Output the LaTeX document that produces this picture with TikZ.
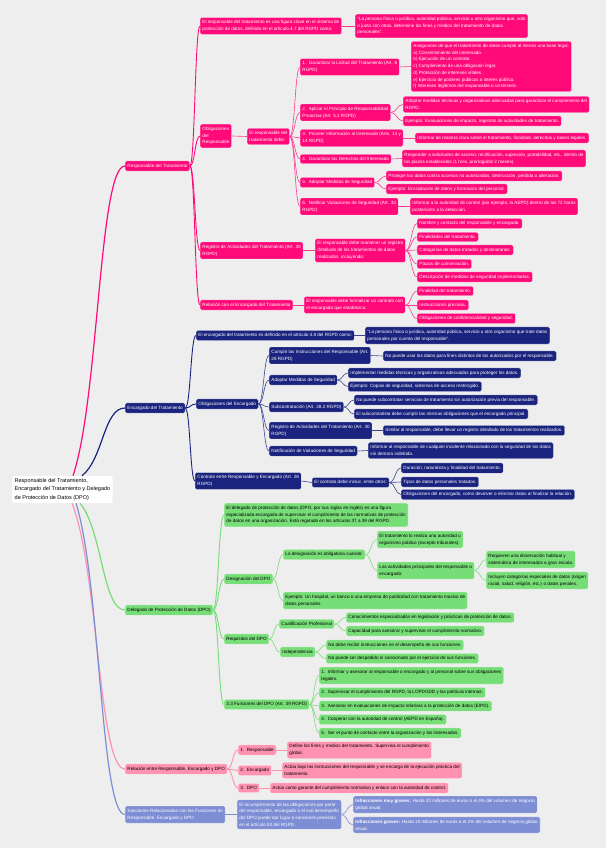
\documentclass[tikz,border=0pt]{standalone}
\usepackage{fontspec}
\setmainfont{Liberation Sans}
\usetikzlibrary{calc}
\definecolor{bg}{HTML}{EEEEEE}
\definecolor{pk}{HTML}{FF0A78}
\definecolor{nv}{HTML}{1A237E}
\definecolor{gr}{HTML}{77DD77}
\definecolor{lp}{HTML}{FF91B1}
\definecolor{pw}{HTML}{7E8ED5}
\newcommand\fs{\fontsize{4.6}{6.7}\selectfont}
\newcommand\cn[3][]{\draw[#1] (#2.east) let \p1=(#2.east), \p2=(#3.west) in .. controls ({(\x1+\x2)/2},\y1) and ({(\x1+\x2)/2},\y2) .. (\p2);}
\newcommand\rl[3][]{\draw[#1] (#2) let \p1=(#2), \p2=(#3.west) in .. controls ({(\x1+\x2)/2},{\y1+((\y2)-(\y1))/4}) and ({(\x1+\x2)/2},\y2) .. (\p2);}
\begin{document}
\begin{tikzpicture}[x=1pt,y=-1pt,
 nbox/.style={rounded corners=1.5pt, inner xsep=2.3pt, inner ysep=3pt, align=left, anchor=west, font=\fs, draw=white, draw opacity=0.55, line width=0.35pt},
 pkb/.style={nbox, fill=pk, text=white},
 nvb/.style={nbox, fill=nv, text=white},
 grb/.style={nbox, fill=gr, text=black},
 lpb/.style={nbox, fill=lp, text=black},
 pwb/.style={nbox, fill=pw, text=white},
 rootb/.style={rounded corners=2pt, fill=white, text=black, inner sep=2.5pt, align=left, anchor=west, font=\fontsize{5.5}{8.5}\selectfont},
 pk0/.style={draw=pk, line width=1.2pt}, pk1/.style={draw=pk, line width=0.9pt}, pk2/.style={draw=pk!80, line width=0.6pt},
 nv0/.style={draw=nv, line width=1.2pt}, nv1/.style={draw=nv, line width=0.9pt}, nv2/.style={draw=nv!85, line width=0.6pt},
 gr0/.style={draw=gr, line width=1.2pt}, gr1/.style={draw=gr, line width=0.9pt}, gr2/.style={draw=gr, line width=0.6pt},
 lp0/.style={draw=lp, line width=1.2pt}, lp1/.style={draw=lp, line width=0.9pt}, lp2/.style={draw=lp, line width=0.6pt},
 pw0/.style={draw=pw, line width=1.2pt}, pw1/.style={draw=pw, line width=0.9pt}, pw2/.style={draw=pw, line width=0.6pt}
]
\fill[bg] (0,0) rectangle (606,848);
\useasboundingbox (0,0) rectangle (606,848);

% root
\node[rootb] (root) at (12,489.5) {Responsable del Tratamiento,\\Encargado del Tratamiento y Delegado\\de Protección de Datos (DPO)};
\coordinate (ra) at ([xshift=61pt]root.north west);
\coordinate (rb) at ([xshift=70pt]root.north west);
\coordinate (rc) at ([xshift=68pt]root.south west);
\coordinate (rd) at ([xshift=60pt]root.south west);
\coordinate (re) at ([xshift=64pt]root.south west);

% ---------------- pink branch
\node[pkb] (r1) at (125,166) {Responsable del Tratamiento};
\node[pkb] (r1a) at (200,26) {El responsable del tratamiento es una figura clave en el sistema de\\protección de datos, definida en el artículo 4.7 del RGPD como:};
\node[pkb] (r1a1) at (355,26) {"La persona física o jurídica, autoridad pública, servicio u otro organismo que, solo\\o junto con otros, determine los fines y medios del tratamiento de datos\\personales".};
\node[pkb] (r1b) at (200,136) {Obligaciones\\del\\Responsable};
\node[pkb] (r1b0) at (247,136.5) {El responsable del\\tratamiento debe:};
\node[pkb] (o1) at (300,67) {1.~~Garantizar la Licitud del Tratamiento (Art. 6\\RGPD)};
\node[pkb] (o1a) at (411,66.5) {Asegurarse de que el tratamiento de datos cumple al menos una base legal:\\a) Consentimiento del interesado.\\b) Ejecución de un contrato.\\c) Cumplimiento de una obligación legal.\\d) Protección de intereses vitales.\\e) Ejercicio de poderes públicos o interés público.\\f) Intereses legítimos del responsable o un tercero.};
\node[pkb] (o2) at (300,112.5) {2.~~Aplicar el Principio de Responsabilidad\\Proactiva (Art. 5.2 RGPD)};
\node[pkb] (o2a) at (403,104.5) {Adoptar medidas técnicas y organizativas adecuadas para garantizar el cumplimiento del\\RGPD.};
\node[pkb] (o2b) at (403,121) {Ejemplo: Evaluaciones de impacto, registros de actividades de tratamiento.};
\node[pkb] (o3) at (300,138) {3.~~Proveer Información al Interesado (Arts. 13 y\\14 RGPD)};
\node[pkb] (o3a) at (415,138) {Informar de manera clara sobre el tratamiento, finalidad, derechos y bases legales.};
\node[pkb] (o4) at (300,159) {4.~~Garantizar los Derechos del Interesado};
\node[pkb] (o4a) at (402,158.5) {Responder a solicitudes de acceso, rectificación, supresión, portabilidad, etc., dentro de\\los plazos establecidos (1 mes, prorrogable 2 meses).};
\node[pkb] (o5) at (300,182.5) {5.~~Adoptar Medidas de Seguridad};
\node[pkb] (o5a) at (386,176) {Proteger los datos contra accesos no autorizados, destrucción, pérdida o alteración.};
\node[pkb] (o5b) at (386,189) {Ejemplo: Encriptación de datos y formación del personal.};
\node[pkb] (o6) at (300,206.5) {6.~~Notificar Violaciones de Seguridad (Art. 33\\RGPD)};
\node[pkb] (o6a) at (410,206.5) {Informar a la autoridad de control (por ejemplo, la AEPD) dentro de las 72 horas\\posteriores a la detección.};
\node[pkb] (r1c) at (200,250.5) {Registro de Actividades del Tratamiento (Art. 30\\RGPD)};
\node[pkb] (r1c0) at (315,250.5) {El responsable debe mantener un registro\\detallado de los tratamientos de datos\\realizados, incluyendo:};
\node[pkb] (c1) at (417,223.5) {Nombre y contacto del responsable y encargado.};
\node[pkb] (c2) at (417,237) {Finalidades del tratamiento.};
\node[pkb] (c3) at (417,250) {Categorías de datos tratados y destinatarios.};
\node[pkb] (c4) at (417,264) {Plazos de conservación.};
\node[pkb] (c5) at (417,277) {Descripción de medidas de seguridad implementadas.};
\node[pkb] (r1d) at (200,305) {Relación con el Encargado del Tratamiento};
\node[pkb] (r1d0) at (304,305) {El responsable debe formalizar un contrato con\\el encargado que establezca:};
\node[pkb] (d1) at (417,291) {Finalidad del tratamiento.};
\node[pkb] (d2) at (417,305) {Instrucciones precisas.};
\node[pkb] (d3) at (417,318.5) {Obligaciones de confidencialidad y seguridad.};

\rl[pk0]{ra}{r1}
\foreach \nd in {r1a,r1b,r1c,r1d} {\cn[pk1]{r1}{\nd}}
\cn[pk2]{r1a}{r1a1}
\cn[pk2]{r1b}{r1b0}
\foreach \nd in {o1,o2,o3,o4,o5,o6} {\cn[pk2]{r1b0}{\nd}}
\cn[pk2]{o1}{o1a}
\cn[pk2]{o2}{o2a}\cn[pk2]{o2}{o2b}
\cn[pk2]{o3}{o3a}
\cn[pk2]{o4}{o4a}
\cn[pk2]{o5}{o5a}\cn[pk2]{o5}{o5b}
\cn[pk2]{o6}{o6a}
\cn[pk2]{r1c}{r1c0}
\foreach \nd in {c1,c2,c3,c4,c5} {\cn[pk2]{r1c0}{\nd}}
\cn[pk2]{r1d}{r1d0}
\foreach \nd in {d1,d2,d3} {\cn[pk2]{r1d0}{\nd}}

% ---------------- navy branch
\node[nvb] (e1) at (125,408) {Encargado del Tratamiento};
\node[nvb] (e1a) at (196,335.5) {El encargado del tratamiento es definido en el artículo 4.8 del RGPD como:};
\node[nvb] (e1a1) at (365,335.5) {"La persona física o jurídica, autoridad pública, servicio u otro organismo que trate datos\\personales por cuenta del responsable".};
\node[nvb] (e1b) at (196,404) {Obligaciones del Encargado};
\node[nvb] (f1) at (269,355.5) {Cumplir las Instrucciones del Responsable (Art.\\28 RGPD)};
\node[nvb] (f1a) at (383,356) {No puede usar los datos para fines distintos de los autorizados por el responsable.};
\node[nvb] (f2) at (269,380) {Adoptar Medidas de Seguridad};
\node[nvb] (f2a) at (348,373) {Implementar medidas técnicas y organizativas adecuadas para proteger los datos.};
\node[nvb] (f2b) at (348,386.5) {Ejemplo: Copias de seguridad, sistemas de acceso restringido.};
\node[nvb] (f3) at (269,407) {Subcontratación (Art. 28.2 RGPD)};
\node[nvb] (f3a) at (354,400) {No puede subcontratar servicios de tratamiento sin autorización previa del responsable.};
\node[nvb] (f3b) at (354,414) {El subcontratista debe cumplir las mismas obligaciones que el encargado principal.};
\node[nvb] (f4) at (269,430.5) {Registro de Actividades del Tratamiento (Art. 30\\RGPD)};
\node[nvb] (f4a) at (383,430.5) {Similar al responsable, debe llevar un registro detallado de los tratamientos realizados.};
\node[nvb] (f5) at (269,451) {Notificación de Violaciones de Seguridad};
\node[nvb] (f5a) at (368,450.5) {Informar al responsable de cualquier incidente relacionado con la seguridad de los datos\\sin demora indebida.};
\node[nvb] (e1c) at (195,481) {Contrato entre Responsable y Encargado (Art. 28\\RGPD)};
\node[nvb] (e1c0) at (312,482.5) {El contrato debe incluir, entre otros:};
\node[nvb] (g1) at (401,468) {Duración, naturaleza y finalidad del tratamiento.};
\node[nvb] (g2) at (401,482) {Tipos de datos personales tratados.};
\node[nvb] (g3) at (401,494.5) {Obligaciones del encargado, como devolver o eliminar datos al finalizar la relación.};

\rl[nv0]{rb}{e1}
\foreach \nd in {e1a,e1b,e1c} {\cn[nv1]{e1}{\nd}}
\cn[nv2]{e1a}{e1a1}
\foreach \nd in {f1,f2,f3,f4,f5} {\cn[nv2]{e1b}{\nd}}
\cn[nv2]{f1}{f1a}
\cn[nv2]{f2}{f2a}\cn[nv2]{f2}{f2b}
\cn[nv2]{f3}{f3a}\cn[nv2]{f3}{f3b}
\cn[nv2]{f4}{f4a}
\cn[nv2]{f5}{f5a}
\cn[nv2]{e1c}{e1c0}
\foreach \nd in {g1,g2,g3} {\cn[nv2]{e1c0}{\nd}}

% ---------------- green branch
\node[grb] (p1) at (125,610) {Delegado de Protección de Datos (DPO)};
\node[grb] (p1a) at (224,515) {El delegado de protección de datos (DPO, por sus siglas en inglés) es una figura\\especializada encargada de supervisar el cumplimiento de las normativas de protección\\de datos en una organización. Está regulado en los artículos 37 a 39 del RGPD.};
\node[grb] (p1b) at (224,579) {Designación del DPO};
\node[grb] (h1) at (283,554.5) {La designación es obligatoria cuando:};
\node[grb] (h1a) at (377,539.5) {El tratamiento lo realiza una autoridad u\\organismo público (excepto tribunales).};
\node[grb] (h1b) at (377,570.5) {Las actividades principales del responsable o\\encargado:};
\node[grb] (h1b1) at (486,559.5) {Requieren una observación habitual y\\sistemática de interesados a gran escala.};
\node[grb] (h1b2) at (486,580.5) {Incluyen categorías especiales de datos (origen\\racial, salud, religión, etc.) o datos penales.};
\node[grb] (h2) at (283,600.5) {Ejemplo: Un hospital, un banco o una empresa de publicidad con tratamiento masivo de\\datos personales.};
\node[grb] (p1c) at (224,639) {Requisitos del DPO};
\node[grb] (k1) at (279,624) {Cualificación Profesional};
\node[grb] (k1a) at (346,617.5) {Conocimientos especializados en legislación y prácticas de protección de datos.};
\node[grb] (k1b) at (346,631) {Capacidad para asesorar y supervisar el cumplimiento normativo.};
\node[grb] (k2) at (280,652) {Independencia};
\node[grb] (k2a) at (326,645) {No debe recibir instrucciones en el desempeño de sus funciones.};
\node[grb] (k2b) at (326,658.5) {No puede ser despedido ni sancionado por el ejercicio de sus funciones.};
\node[grb] (p1d) at (224,704.5) {3.3 Funciones del DPO (Art. 39 RGPD)};
\node[grb] (m1) at (319,675.5) {1.~~Informar y asesorar al responsable o encargado y al personal sobre sus obligaciones\\legales.};
\node[grb] (m2) at (319,692.5) {2.~~Supervisar el cumplimiento del RGPD, la LOPDGDD y las políticas internas.};
\node[grb] (m3) at (319,706) {3.~~Asesorar en evaluaciones de impacto relativas a la protección de datos (EIPD).};
\node[grb] (m4) at (319,719.5) {4.~~Cooperar con la autoridad de control (AEPD en España).};
\node[grb] (m5) at (319,733) {5.~~Ser el punto de contacto entre la organización y los interesados.};

\rl[gr0]{rc}{p1}
\foreach \nd in {p1a,p1b,p1c,p1d} {\cn[gr1]{p1}{\nd}}
\cn[gr2]{p1b}{h1}\cn[gr2]{p1b}{h2}
\cn[gr2]{h1}{h1a}\cn[gr2]{h1}{h1b}
\cn[gr2]{h1b}{h1b1}\cn[gr2]{h1b}{h1b2}
\cn[gr2]{p1c}{k1}\cn[gr2]{p1c}{k2}
\cn[gr2]{k1}{k1a}\cn[gr2]{k1}{k1b}
\cn[gr2]{k2}{k2a}\cn[gr2]{k2}{k2b}
\foreach \nd in {m1,m2,m3,m4,m5} {\cn[gr2]{p1d}{\nd}}

% ---------------- light pink branch
\node[lpb] (l1) at (125,769) {Relación entre Responsable, Encargado y DPO};
\node[lpb] (l1a) at (238,750) {1.~~Responsable};
\node[lpb] (l1a1) at (287,750) {Define los fines y medios del tratamiento. Supervisa el cumplimiento\\global.};
\node[lpb] (l1b) at (238,770.5) {2.~~Encargado};
\node[lpb] (l1b1) at (282,770.5) {Actúa bajo las instrucciones del responsable y se encarga de la ejecución práctica del\\tratamiento.};
\node[lpb] (l1c) at (238,788) {3.~~DPO};
\node[lpb] (l1c1) at (270,788) {Actúa como garante del cumplimiento normativo y enlace con la autoridad de control.};

\rl[lp0]{rd}{l1}
\foreach \nd in {l1a,l1b,l1c} {\cn[lp1]{l1}{\nd}}
\cn[lp2]{l1a}{l1a1}\cn[lp2]{l1b}{l1b1}\cn[lp2]{l1c}{l1c1}

% ---------------- periwinkle branch
\node[pwb] (s1) at (125,814.5) {Sanciones Relacionadas con las Funciones de\\Responsable, Encargado y DPO};
\node[pwb] (s1a) at (237,814.5) {El incumplimiento de las obligaciones por parte\\del responsable, encargado o el mal desempeño\\del DPO puede dar lugar a sanciones previstas\\en el artículo 83 del RGPD.};
\node[pwb] (s1a1) at (353,804.5) {\textbf{Infracciones muy graves:} Hasta 20 millones de euros o el 4\% del volumen de negocio\\global anual.};
\node[pwb] (s1a2) at (353,825) {\textbf{Infracciones graves:} Hasta 10 millones de euros o el 2\% del volumen de negocio global\\anual.};

\rl[pw0]{re}{s1}
\cn[pw1]{s1}{s1a}
\cn[pw2]{s1a}{s1a1}\cn[pw2]{s1a}{s1a2}
\end{tikzpicture}
\end{document}
